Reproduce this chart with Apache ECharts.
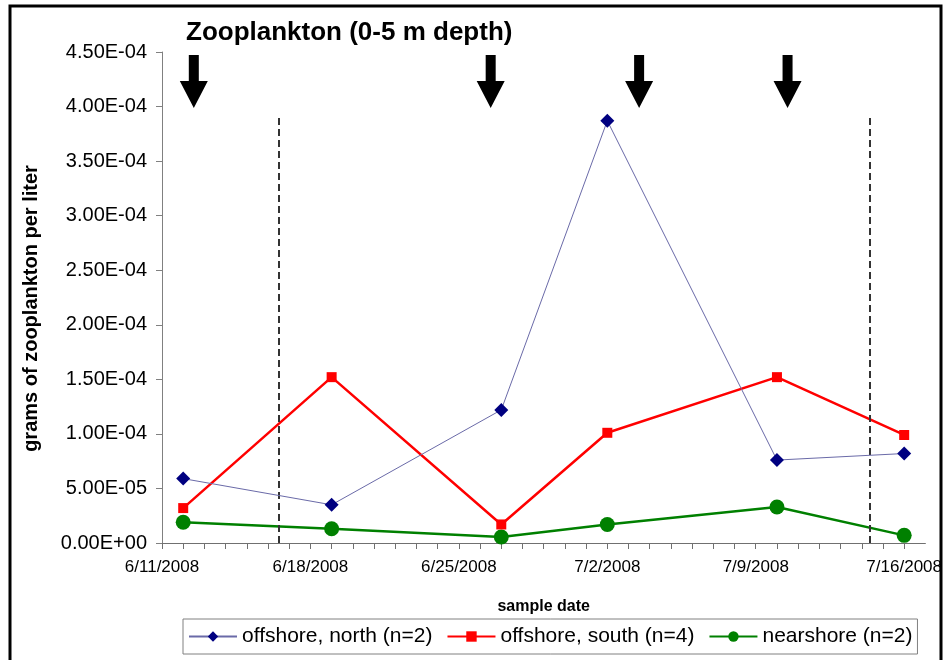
<!DOCTYPE html>
<html>
<head>
<meta charset="utf-8">
<script src="https://cdn.jsdelivr.net/npm/echarts@6/dist/echarts.min.js"></script>
<style>
  html, body { margin: 0; padding: 0; background: #fff; }
  #chart { width: 945px; height: 660px; }
</style>
</head>
<body>
<div id="chart"></div>
<script>
    // sample dates and values (grams per liter)
    var sample_dates = ['2008-06-12', '2008-06-19', '2008-06-27', '2008-07-02', '2008-07-10', '2008-07-16'];
    var offshore_north = [5.9e-5, 3.5e-5, 1.22e-4, 3.87e-4, 7.6e-5, 8.2e-5];
    var offshore_south = [3.2e-5, 1.52e-4, 1.7e-5, 1.01e-4, 1.52e-4, 9.9e-5];
    var nearshore = [1.9e-5, 1.3e-5, 5.5e-6, 1.7e-5, 3.3e-5, 7e-6];

    var series_names = ['offshore, north (n=2)', 'offshore, south (n=4)', 'nearshore (n=2)'];

    // annotations
    var arrow_dates = ['2008-06-12T12:00', '2008-06-26T12:00', '2008-07-03T12:00', '2008-07-10T12:00'];
    var arrow_level = 4.23e-4;
    var dashed_dates = ['2008-06-16T12:00', '2008-07-14T09:00'];
    var dashed_top = 3.9e-4;

    var axis_start = '2008-06-11';
    var axis_days = 36;

    var start_ms = Date.parse(axis_start + 'T00:00:00Z');
    function day_of(s) {
        var full = s.length > 10 ? s + ':00Z' : s + 'T00:00:00Z';
        return (Date.parse(full) - start_ms) / 86400000;
    }
    function date_label(d) {
        var t = new Date(start_ms + d * 86400000);
        return (t.getUTCMonth() + 1) + '/' + t.getUTCDate() + '/' + t.getUTCFullYear();
    }
    function sci(v) {
        if (Math.abs(v) < 1e-12) return '0.00E+00';
        var parts = v.toExponential(2).split('e');
        var e = parseInt(parts[1], 10);
        var a = Math.abs(e);
        return parts[0] + 'E' + (e < 0 ? '-' : '+') + (a < 10 ? '0' : '') + a;
    }
    function pairs(values) {
        var out = [];
        for (var i = 0; i < values.length; i++) {
            out.push([day_of(sample_dates[i]), values[i]]);
        }
        return out;
    }

    var arrow_points = [];
    for (var i = 0; i < arrow_dates.length; i++) {
        arrow_points.push({coord: [day_of(arrow_dates[i]), arrow_level]});
    }
    var dashed_lines = [];
    for (var j = 0; j < dashed_dates.length; j++) {
        var dx = day_of(dashed_dates[j]);
        dashed_lines.push([{coord: [dx, 0]}, {coord: [dx, dashed_top]}]);
    }

    var font = 'Liberation Sans, Arial, sans-serif';
    var arrow_path = 'path://M9,0 L19,0 L19,26 L28,26 L14,53 L0,26 L9,26 Z';

    var myChart = echarts.init(document.getElementById('chart'));
    var option = {
        animation: false,
        backgroundColor: '#fff',
        textStyle: {fontFamily: font},
        title: {
            text: 'Zooplankton (0-5 m depth)',
            left: 181,
            top: 15,
            textStyle: {fontFamily: font, fontSize: 26, fontWeight: 'bold', color: '#000'}
        },
        graphic: [{
            type: 'rect',
            shape: {x: 10, y: 6, width: 931, height: 670},
            style: {fill: 'none', stroke: '#000', lineWidth: 3},
            silent: true
        }],
        legend: {
            left: 183,
            top: 619,
            width: 740,
            padding: [7, 5, 7, 5],
            itemGap: 14,
            itemWidth: 48,
            itemHeight: 13,
            borderColor: '#808080',
            borderWidth: 1,
            textStyle: {fontFamily: font, fontSize: 21, color: '#000'},
            data: series_names
        },
        grid: {left: 162, right: 19, top: 52, bottom: 117},
        xAxis: {
            type: 'value',
            min: 0,
            max: axis_days,
            interval: 1,
            name: 'sample date',
            nameLocation: 'middle',
            nameGap: 56,
            nameTextStyle: {fontFamily: font, fontSize: 16, fontWeight: 'bold', color: '#000'},
            axisLine: {lineStyle: {color: '#707070', width: 1}},
            axisTick: {show: true, length: 6, lineStyle: {color: '#707070'}},
            splitLine: {show: false},
            axisLabel: {
                interval: 0,
                margin: 16,
                fontFamily: font,
                fontSize: 17,
                color: '#000',
                showMaxLabel: false,
                formatter: function (v) {
                    return (Math.round(v) % 7 === 0) ? date_label(v) : '';
                }
            }
        },
        yAxis: {
            type: 'value',
            min: 0,
            max: 4.5e-4,
            interval: 0.5e-4,
            name: 'grams of zooplankton per liter',
            nameLocation: 'middle',
            nameGap: 121,
            nameTextStyle: {fontFamily: font, fontSize: 20, fontWeight: 'bold', color: '#000', padding: [0, 0, 0, -22]},
            axisLine: {show: true, lineStyle: {color: '#808080', width: 1}},
            axisTick: {show: true, length: 6, lineStyle: {color: '#808080'}},
            splitLine: {show: false},
            axisLabel: {
                margin: 15,
                fontFamily: font,
                fontSize: 20,
                color: '#000',
                formatter: sci
            }
        },
        series: [
            {
                name: series_names[0],
                type: 'line',
                data: pairs(offshore_north),
                symbol: 'diamond',
                symbolSize: 14,
                color: '#000080',
                lineStyle: {color: '#6a6aa8', width: 1},
                itemStyle: {color: '#000080'},
                z: 5,
                markPoint: {
                    symbol: arrow_path,
                    symbolSize: [28, 53],
                    itemStyle: {color: '#000'},
                    label: {show: false},
                    silent: true,
                    data: arrow_points
                },
                markLine: {
                    symbol: 'none',
                    silent: true,
                    label: {show: false},
                    lineStyle: {color: '#333', type: [7, 4], width: 2},
                    data: dashed_lines
                }
            },
            {
                name: series_names[1],
                type: 'line',
                data: pairs(offshore_south),
                symbol: 'rect',
                symbolSize: 10,
                color: '#ff0000',
                lineStyle: {color: '#ff0000', width: 2.5},
                itemStyle: {color: '#ff0000'},
                z: 4
            },
            {
                name: series_names[2],
                type: 'line',
                data: pairs(nearshore),
                symbol: 'circle',
                symbolSize: 15,
                color: '#008000',
                lineStyle: {color: '#008000', width: 2.5},
                itemStyle: {color: '#008000'},
                z: 3
            }
        ]
    };
    myChart.setOption(option);
</script>
</body>
</html>
